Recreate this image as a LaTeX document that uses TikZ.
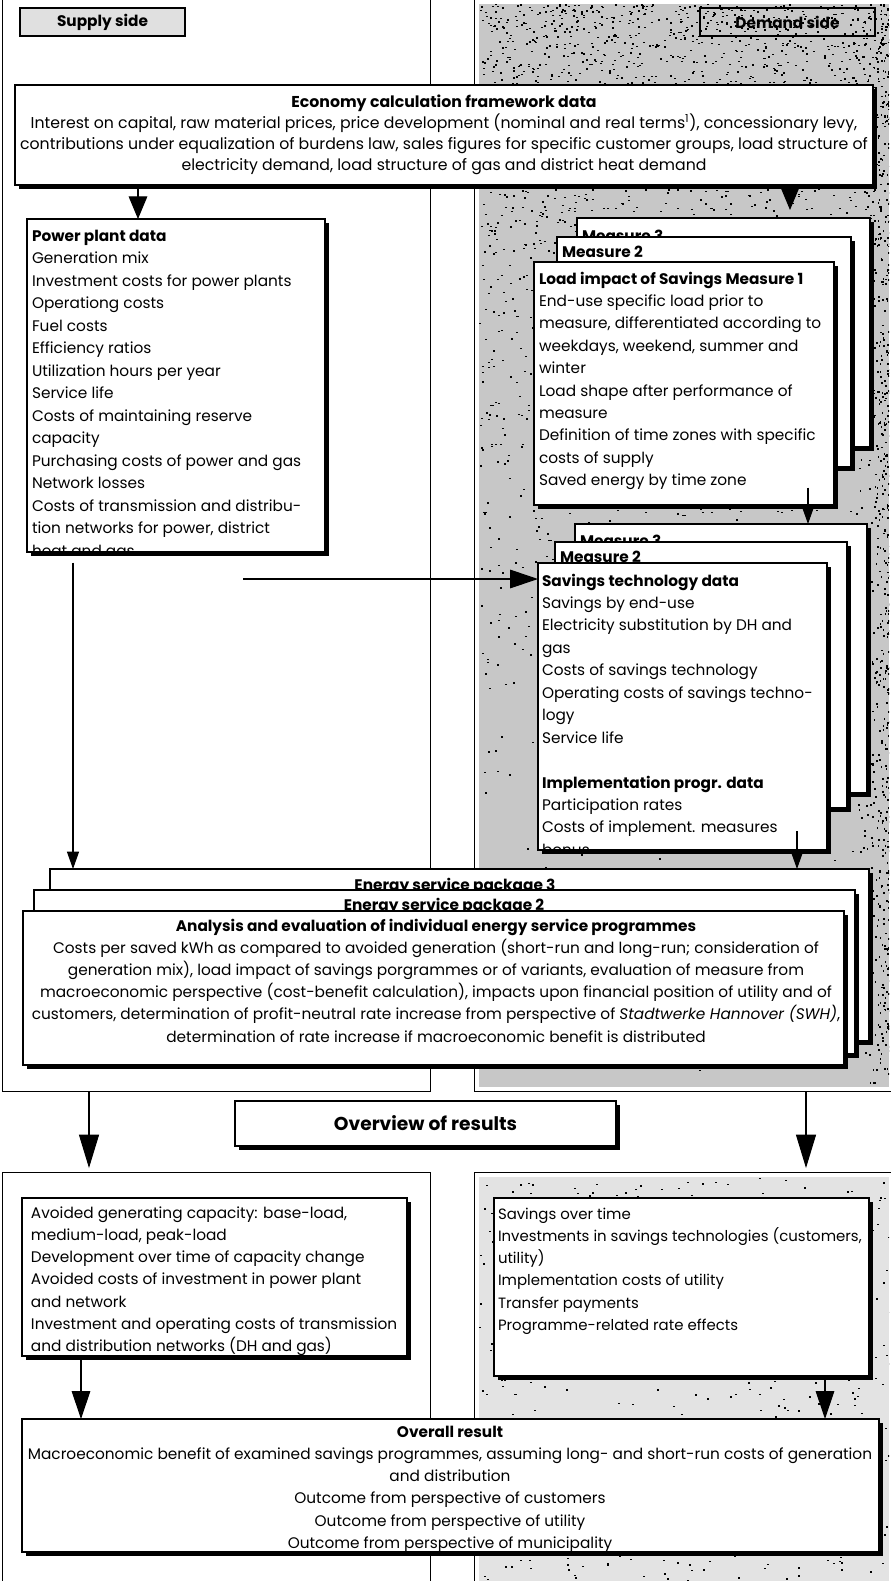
\documentclass[tikz,border=0pt]{standalone}
\usepackage{fontspec}
\setmainfont{Poppins}
\usetikzlibrary{arrows.meta,shadows,fit}
\newcommand\bodyfont{\fontsize{11.5pt}{13pt}\selectfont}
\newcommand\econfont{\fontsize{11.8pt}{13pt}\selectfont}
\newcommand\resfont{\fontsize{11.2pt}{13pt}\selectfont}
\newcommand\bigfont{\fontsize{14pt}{16pt}\selectfont\bfseries}
\newcommand\tlines[6]{\foreach \tline [count=\ti from 0] in {#6}{\node[txt,anchor=#5] (#1\ti) at (#2,{#3+\ti*#4}) {\tline};}}
\newcommand\mkbox[6][box]{\node[#1,fit={(#3,#4) (#5,#6)}] (#2) {};}
\tikzset{
  frame/.style={draw,line width=0.8pt},
  box/.style={draw,fill=white,line width=1pt,inner sep=0pt,outer sep=0pt,
    drop shadow={shadow xshift=3pt,shadow yshift=-3pt,fill=black,opacity=1}},
  label box/.style={draw,line width=1pt,inner sep=0pt,outer sep=0pt},
  txt/.style={inner sep=0pt,outer sep=0pt,font=\bodyfont},
  conn/.style={line width=0.8pt},
  headbig/.style={conn,-{Triangle[length=17pt,width=14pt]}},
  headlong/.style={conn,-{Triangle[length=25pt,width=15pt]}},
  headmid/.style={conn,-{Triangle[length=21pt,width=14pt]}},
  headsmall/.style={conn,-{Triangle[length=13pt,width=9pt]}},
  stip/.style={fill=black!22},
  stiplight/.style={fill=black!11},
}
\begin{document}
\begin{tikzpicture}[x=0.75pt,y=-0.75pt]
\useasboundingbox (0,0) rectangle (891,1581);
% ---------- region frames and stipple ----------
\fill[stip] (479,4) rectangle (889,1087);
\fill[stiplight] (479,1177) rectangle (889,1581);
\begin{scope}
  \clip (479,4) rectangle (889,1087);
  \pgfmathsetseed{11}
  \foreach \k in {1,...,2600}{\pgfmathsetmacro\sx{479+412*rnd}\pgfmathsetmacro\sy{4+1083*rnd*rnd}\fill (\sx,\sy) rectangle ++(2,1.4);}
  \foreach \k in {1,...,600}{\pgfmathsetmacro\sx{889-40*rnd*rnd}\pgfmathsetmacro\sy{4+1083*rnd}\fill (\sx,\sy) rectangle ++(1.6,2);}
\end{scope}
\begin{scope}
  \clip (479,1177) rectangle (889,1581);
  \pgfmathsetseed{5}
  \foreach \k in {1,...,600}{\pgfmathsetmacro\sx{479+412*rnd}\pgfmathsetmacro\sy{1177+404*rnd}\fill (\sx,\sy) rectangle ++(2,1.4);}
\end{scope}
\mkbox[frame]{supply}{7}{4}{426}{1087}
\mkbox[frame]{demand}{479}{4}{889}{1087}
\mkbox[frame]{supplyres}{7}{1177}{426}{1579}
\mkbox[frame]{demandres}{479}{1177}{889}{1579}
% ---------- side labels ----------
\mkbox[label box,fill=black!12]{supplylab}{20}{8}{185}{36}
\node[txt,font=\bodyfont\bfseries] (supplytxt) at (supplylab.center) {Supply side};
\mkbox[label box]{demandlab}{700}{8}{875}{36}
\node[txt,font=\bodyfont\bfseries] (demandtxt) at (demandlab.center) {Demand side};
% ---------- economy framework ----------
\mkbox{econ}{15}{85}{873}{185}
\begin{scope}[txt/.append style={font=\econfont}]
\tlines{econ-}{444}{107}{21}{base}{{\textbf{Economy calculation framework data}},{Interest on capital, raw material prices, price development (nominal and real terms\textsuperscript{1}), concessionary levy,},{contributions under equalization of burdens law, sales figures for specific customer groups, load structure of},{electricity demand, load structure of gas and district heat demand}}
\end{scope}
% ---------- power plant data ----------
\mkbox{pp}{27}{219}{325}{552}
\begin{scope}
\clip (27,219) rectangle (325,552);
\tlines{pp-}{32}{241}{22.5}{base west}{{\textbf{Power plant data}},{Generation mix},{Investment costs for power plants},{Operationg costs},{Fuel costs},{Efficiency ratios},{Utilization hours per year},{Service life},{Costs of maintaining reserve},{capacity},{Purchasing costs of power and gas},{Network losses},{Costs of transmission and distribu-},{tion networks for power, district},{heat and gas}}
\end{scope}
% ---------- measures stack 1 ----------
\mkbox{m3a}{577}{218}{870}{447}
\node[txt,anchor=base west] (m3atxt) at (582,241) {\textbf{Measure 3}};
\mkbox{m2a}{557}{237}{851}{467}
\node[txt,anchor=base west] (m2atxt) at (562,257) {\textbf{Measure 2}};
\mkbox{m1}{534}{262}{834}{505}
\tlines{m1-}{539}{284}{22.4}{base west}{{\textbf{Load impact of Savings Measure 1}},{End-use specific load prior to},{measure, differentiated according to},{weekdays, weekend, summer and},{winter},{Load shape after performance of},{measure},{Definition of time zones with specific},{costs of supply},{Saved energy by time zone}}
% ---------- measures stack 2 ----------
\mkbox{m3b}{575}{524}{867}{793}
\node[txt,anchor=base west] (m3btxt) at (580,546) {\textbf{Measure 3}};
\mkbox{m2b}{555}{542}{847}{808}
\node[txt,anchor=base west] (m2btxt) at (560,562) {\textbf{Measure 2}};
\mkbox{sav}{538}{563}{827}{850}
\begin{scope}
\clip (538,563) rectangle (827,850);
\tlines{sav-}{542}{586}{22.45}{base west}{{\textbf{Savings technology data}},{Savings by end-use},{Electricity substitution by DH and},{gas},{Costs of savings technology},{Operating costs of savings techno-},{logy},{Service life},{},{\textbf{Implementation progr. data}},{Participation rates},{Costs of implement. measures},{bonus}}
\end{scope}
% ---------- energy service packages ----------
\mkbox{pk3}{50}{869}{869}{1041}
\node[txt,anchor=base] (pk3txt) at (455,890) {\textbf{Energy service package 3}};
\mkbox{pk2}{34}{890}{855}{1054}
\node[txt,anchor=base] (pk2txt) at (444,910) {\textbf{Energy service package 2}};
\mkbox{an}{23}{911}{844}{1065}
\tlines{an-}{436}{931}{22.2}{base}{{\textbf{Analysis and evaluation of individual energy service programmes}},{Costs per saved kWh as compared to avoided generation (short-run and long-run; consideration of},{generation mix), load impact of savings porgrammes or of variants, evaluation of measure from},{macroeconomic perspective (cost-benefit calculation), impacts upon financial position of utility and of},{customers, determination of profit-neutral rate increase from perspective of \textit{Stadtwerke Hannover (SWH)},},{determination of rate increase if macroeconomic benefit is distributed}}
% ---------- overview ----------
\mkbox{ov}{235}{1101}{616}{1146}
\node[inner sep=0pt,font=\bigfont] (ovtxt) at (ov.center) {Overview of results};
% ---------- results ----------
\mkbox{lres}{22}{1198}{407}{1356}
\begin{scope}
\clip (22,1198) rectangle (407,1356);
\tlines{lres-}{31}{1218}{22.3}{base west}{{Avoided generating capacity: base-load,},{medium-load, peak-load},{Development over time of capacity change},{Avoided costs of investment in power plant},{and network},{Investment and operating costs of transmission},{and distribution networks (DH and gas)}}
\end{scope}
\mkbox{rres}{494}{1198}{869}{1376}
\begin{scope}[txt/.append style={font=\resfont}]
\tlines{rres-}{498}{1219}{22.3}{base west}{{Savings over time},{Investments in savings technologies (customers,},{utility)},{Implementation costs of utility},{Transfer payments},{Programme-related rate effects}}
\end{scope}
% ---------- overall ----------
\mkbox{ovr}{22}{1419}{879}{1552}
\begin{scope}
\clip (22,1419) rectangle (879,1552);
\tlines{ovr-}{450}{1437}{22.3}{base}{{\textbf{Overall result}},{Macroeconomic benefit of examined savings programmes, assuming long- and short-run costs of generation},{and distribution},{Outcome from perspective of customers},{Outcome from perspective of utility},{Outcome from perspective of municipality}}
\end{scope}
% ---------- connectors ----------
\coordinate (xa) at (138,0);
\coordinate (xb) at (790,0);
\coordinate (xc) at (808,0);
\coordinate (xd) at (797,0);
\coordinate (xe) at (73,0);
\coordinate (xf) at (89,0);
\coordinate (xg) at (806,0);
\coordinate (xh) at (81,0);
\coordinate (xi) at (825,0);
\coordinate (hstart) at (243,579);
\draw[headbig] (econ.south -| xa) -- (pp.north -| xa);
\draw[headbig] (econ.south -| xb) -- ([yshift=6pt]m3a.north -| xb);
\draw[headsmall] ([yshift=13pt]m1.south -| xc) -- (m3b.north -| xc);
\draw[headmid] (hstart) -- (hstart -| sav.west);
\draw[headsmall] ([yshift=14pt]sav.south -| xd) -- (pk3.north -| xd);
\draw[headsmall] ([yshift=-8pt]pp.south -| xe) -- (pk3.north -| xe);
\draw[headlong] (supply.south -| xf) -- ([yshift=3pt]supplyres.north -| xf);
\draw[headlong] (demand.south -| xg) -- ([yshift=3pt]demandres.north -| xg);
\draw[headmid] ([yshift=-3pt]lres.south -| xh) -- (ovr.north -| xh);
\draw[headmid] ([yshift=-3pt]rres.south -| xi) -- (ovr.north -| xi);
\end{tikzpicture}
\end{document}
